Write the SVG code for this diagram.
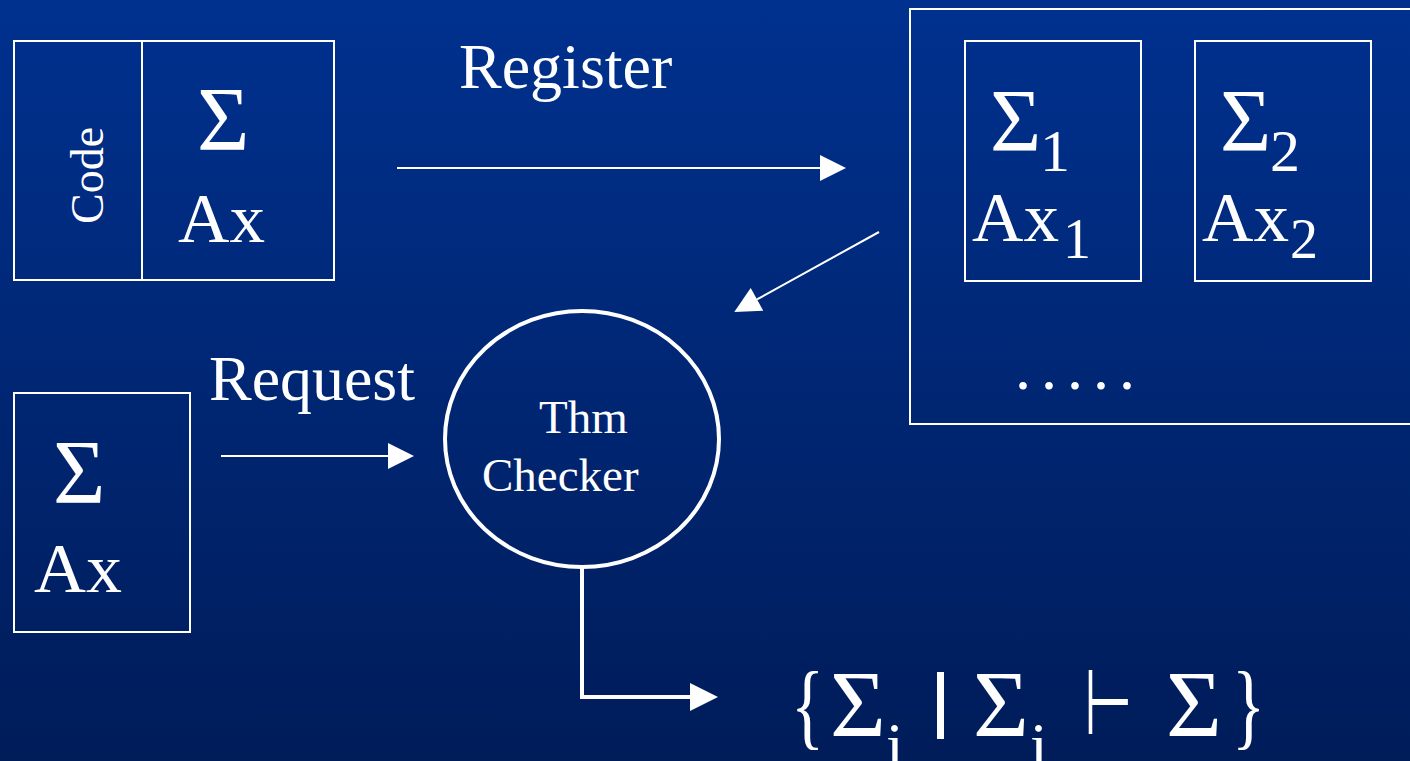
<svg xmlns="http://www.w3.org/2000/svg" width="1410" height="761" viewBox="0 0 1410 761">
  <defs>
    <linearGradient id="bg" x1="0" y1="0" x2="0" y2="1">
      <stop offset="0" stop-color="#00318F"/>
      <stop offset="1" stop-color="#001C59"/>
    </linearGradient>
    <marker id="head" markerUnits="userSpaceOnUse" markerWidth="28" markerHeight="28" refX="0" refY="13" orient="auto" viewBox="0 0 28 28" overflow="visible">
      <path d="M0,0 L26,13 L0,26 z" fill="#fff"/>
    </marker>
    <marker id="headBig" markerUnits="userSpaceOnUse" markerWidth="30" markerHeight="30" refX="0" refY="14" orient="auto" viewBox="0 0 30 30" overflow="visible">
      <path d="M0,0 L28,14 L0,28 z" fill="#fff"/>
    </marker>
  </defs>
  <style>
    .box { fill: none; stroke: #fff; stroke-width: 2; }
    .t { font-family: "Liberation Serif", "Times New Roman", serif; fill: #fff; }
    .conn { fill: none; stroke: #fff; stroke-width: 2; }
    .connBig { fill: none; stroke: #fff; stroke-width: 4; }
  </style>

  <rect x="0" y="0" width="1410" height="761" fill="url(#bg)"/>

  <!-- module with code, signature and axioms -->
  <g id="module">
    <rect class="box" x="14" y="41" width="320" height="239"/>
    <line class="box" x1="142" y1="41" x2="142" y2="280"/>
    <text class="t" font-size="46" transform="translate(103,224) rotate(-90)">Code</text>
    <text class="t" font-size="90" x="197" y="150">Σ</text>
    <text class="t" font-size="69" x="178" y="242" textLength="87" lengthAdjust="spacingAndGlyphs">Ax</text>
  </g>

  <g id="register-label">
    <text class="t" font-size="64" x="459" y="88">Register</text>
  </g>

  <!-- registry of signatures and axioms -->
  <g id="registry">
    <rect class="box" x="910" y="9" width="520" height="415"/>
    <g id="entry1">
      <rect class="box" x="965" y="41" width="176" height="240"/>
      <text class="t" font-size="88" x="990" y="150">Σ</text>
      <text class="t" font-size="60" x="1040" y="171">1</text>
      <text class="t" font-size="69" x="972" y="241" textLength="87" lengthAdjust="spacingAndGlyphs">Ax</text>
      <text class="t" font-size="56" x="1063" y="258">1</text>
    </g>
    <g id="entry2">
      <rect class="box" x="1195" y="41" width="176" height="240"/>
      <text class="t" font-size="88" x="1220" y="150">Σ</text>
      <text class="t" font-size="60" x="1270" y="171">2</text>
      <text class="t" font-size="69" x="1202" y="241" textLength="87" lengthAdjust="spacingAndGlyphs">Ax</text>
      <text class="t" font-size="56" x="1290" y="258">2</text>
    </g>
    <text class="t" font-size="64" x="1015" y="389" letter-spacing="10">.....</text>
  </g>

  <!-- requested signature and axioms -->
  <g id="request-box">
    <rect class="box" x="14" y="393" width="176" height="239"/>
    <text class="t" font-size="90" x="53" y="503">Σ</text>
    <text class="t" font-size="69" x="34" y="592" textLength="88" lengthAdjust="spacingAndGlyphs">Ax</text>
  </g>

  <g id="request-label">
    <text class="t" font-size="63" x="209" y="400" textLength="206" lengthAdjust="spacingAndGlyphs">Request</text>
  </g>

  <g id="thm-checker">
    <ellipse cx="582" cy="439" rx="137" ry="128" fill="none" stroke="#fff" stroke-width="4"/>
    <text class="t" font-size="47" x="539" y="433">Thm</text>
    <text class="t" font-size="47" x="482" y="491">Checker</text>
  </g>

  <!-- result set -->
  <g id="result">
    <text class="t" font-size="96" transform="translate(791,737) scale(0.72,1)">{</text>
    <text class="t" font-size="96" x="830" y="737">Σ</text>
    <text class="t" font-size="64" x="886" y="767">i</text>
    <rect x="937" y="672" width="7" height="67" fill="#fff"/>
    <text class="t" font-size="96" x="973" y="737">Σ</text>
    <text class="t" font-size="64" x="1030" y="767">i</text>
    <text font-family="DejaVu Sans, sans-serif" font-weight="200" font-size="90" fill="#fff" transform="translate(1084,734) scale(0.62,1)">⊢</text>
    <text class="t" font-size="96" x="1166" y="737">Σ</text>
    <text class="t" font-size="96" transform="translate(1232,737) scale(0.72,1)">}</text>
  </g>

  <g id="connectors">
    <line class="conn" x1="397" y1="168" x2="820" y2="168" marker-end="url(#head)"/>
    <line class="conn" x1="879" y1="232" x2="757" y2="299.4" marker-end="url(#head)"/>
    <line class="conn" x1="221" y1="456" x2="388" y2="456" marker-end="url(#head)"/>
    <polyline class="connBig" points="582,567 582,697 690,697" marker-end="url(#headBig)"/>
  </g>
</svg>
